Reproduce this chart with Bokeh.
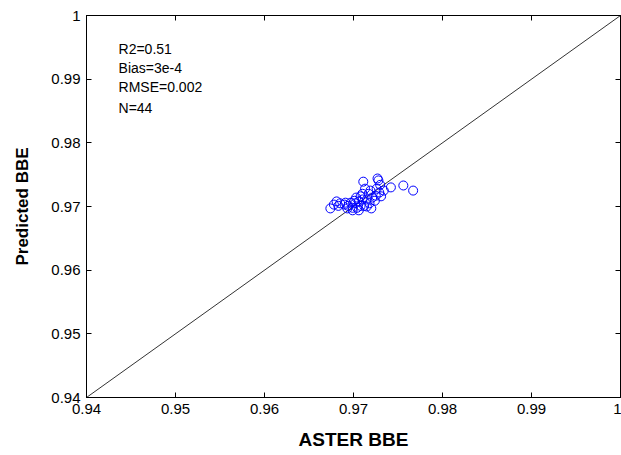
from bokeh.plotting import figure
from bokeh.models import Range1d, FixedTicker, LinearAxis, CustomJSTickFormatter, Label
from bokeh.embed import file_html
from bokeh.resources import INLINE

aster_bbe = [0.9674, 0.9678, 0.9681, 0.9685, 0.9690, 0.9694, 0.9693, 0.9697, 0.9699, 0.9702,
             0.9703, 0.9704, 0.9706, 0.9708, 0.9710, 0.9711, 0.9712, 0.9715, 0.9717, 0.9719,
             0.9720, 0.9721, 0.9724, 0.9726, 0.9727, 0.9728, 0.9730, 0.9731, 0.9729, 0.9742,
             0.9756, 0.9767, 0.9708, 0.9701, 0.9691, 0.9683, 0.9715, 0.9718, 0.9710, 0.9725,
             0.9734, 0.9699, 0.9706, 0.9713]
predicted_bbe = [0.9697, 0.9703, 0.9708, 0.9705, 0.9703, 0.9701, 0.9697, 0.9706, 0.9698, 0.9705,
                 0.9714, 0.9698, 0.9708, 0.9716, 0.9720, 0.9739, 0.9701, 0.9711, 0.9720, 0.9725,
                 0.9697, 0.9714, 0.9709, 0.9728, 0.9744, 0.9741, 0.9734, 0.9716, 0.9722, 0.9730,
                 0.9733, 0.9725, 0.9701, 0.9709, 0.9706, 0.9701, 0.9700, 0.9705, 0.9711, 0.9717,
                 0.9725, 0.9694, 0.9694, 0.9728]
ticks = [0.94, 0.95, 0.96, 0.97, 0.98, 0.99, 1.0]
line_x = [0.94, 1.0]
line_y = [0.94, 1.0]
stats_lines = ["R2=0.51", "Bias=3e-4", "RMSE=0.002", "N=44"]
stats_x = 0.9436
stats_y = [0.9948, 0.9918, 0.9887, 0.9855]

FONT = "Liberation Sans"

p = figure(width=621, height=455, output_backend="svg", toolbar_location=None,
           x_range=Range1d(0.94, 1.0), y_range=Range1d(0.94, 1.0),
           min_border_left=86, min_border_right=1, min_border_top=15, min_border_bottom=58)
p.grid.visible = False
p.outline_line_color = "black"
p.outline_line_width = 1
p.background_fill_color = "white"
p.border_fill_color = "white"

fmt = CustomJSTickFormatter(code="return Number(tick.toFixed(2)).toString();")
for ax in (p.xaxis[0], p.yaxis[0]):
    ax.ticker = FixedTicker(ticks=ticks)
    ax.formatter = fmt
    ax.major_tick_in = 5
    ax.major_tick_out = 0
    ax.minor_tick_line_color = None
    ax.axis_line_color = "black"
    ax.major_tick_line_color = "black"
    ax.major_label_text_font = FONT
    ax.major_label_text_font_size = "15px"
    ax.major_label_text_color = "black"
    ax.axis_label_text_font = FONT
    ax.axis_label_text_font_style = "bold"
    ax.axis_label_text_color = "black"

p.xaxis[0].axis_label = "ASTER BBE"
p.yaxis[0].axis_label = "Predicted BBE"
p.xaxis[0].axis_label_text_font_size = "19px"
p.yaxis[0].axis_label_text_font_size = "17px"
p.xaxis[0].major_label_standoff = 6
p.xaxis[0].axis_label_standoff = 12
p.yaxis[0].major_label_standoff = 6
p.yaxis[0].axis_label_standoff = 16

for loc in ("above", "right"):
    ax = LinearAxis(ticker=FixedTicker(ticks=ticks), major_label_text_font_size="0px",
                    major_tick_in=5, major_tick_out=0, minor_tick_line_color=None,
                    axis_line_color="black", major_tick_line_color="black")
    ax.major_label_text_color = None
    p.add_layout(ax, loc)

p.line(line_x, line_y, line_color="#333333", line_width=1)
p.scatter(aster_bbe, predicted_bbe, marker="circle", size=9, fill_color=None,
          line_color="#0000ff", line_width=1)

for t, yy in zip(stats_lines, stats_y):
    p.add_layout(Label(x=stats_x, y=yy, text=t, text_font=FONT, text_font_size="14px",
                       text_color="black", text_baseline="middle", text_align="left"))

open("out.html", "w").write(file_html(p, INLINE))
